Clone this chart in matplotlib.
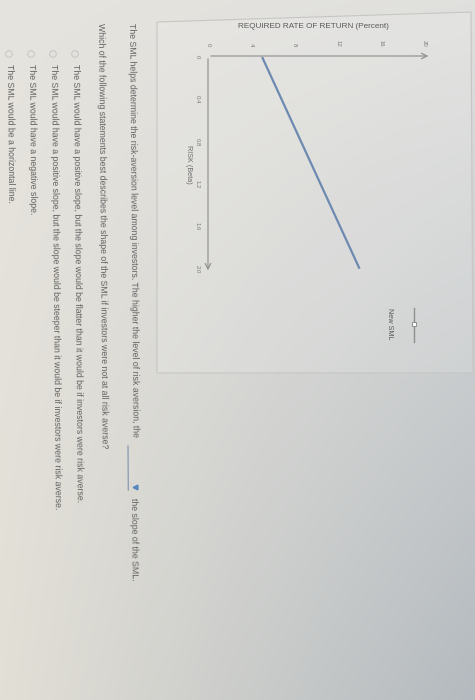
import matplotlib
matplotlib.use("Agg")
import matplotlib.pyplot as plt
import numpy as np
from matplotlib.patches import Polygon, Circle
from matplotlib.lines import Line2D

plt.rcParams["font.family"] = ["Liberation Sans", "DejaVu Sans"]

# chart data (the photo is turned 90 degrees clockwise)
beta_ticks = [0, 0.4, 0.8, 1.2, 1.6, 2.0]
beta_labels = ["0", "0.4", "0.8", "1.2", "1.6", "2.0"]
return_ticks = [0, 4, 8, 12, 16, 20]
return_labels = ["0", "4", "8", "12", "16", "20"]
sml_beta = [0.0, 2.0]
sml_return = [5.0, 14.0]

intro = ("The SML helps determine the risk-aversion level among investors. "
         "The higher the level of risk aversion, the")
intro_end = "the slope of the SML."
question = ("Which of the following statements best describes the shape of the SML "
            "if investors were not at all risk averse?")
options = [
    "The SML would have a positive slope, but the slope would be flatter than it would be if investors were risk averse.",
    "The SML would have a positive slope, but the slope would be steeper than it would be if investors were risk averse.",
    "The SML would have a negative slope.",
    "The SML would be a horizontal line.",
]

W, H = 475, 700
fig = plt.figure(figsize=(W / 100, H / 100), dpi=100)

# background: photographed screen, warm at left, cooler/darker at bottom right
bg = fig.add_axes([0, 0, 1, 1])
bg.set_xlim(0, W)
bg.set_ylim(H, 0)
bg.axis("off")
yy, xx = np.mgrid[0:1:140j, 0:1:95j]
tl = np.array([230, 228, 222]) / 255
tr = np.array([224, 224, 222]) / 255
bl = np.array([226, 223, 214]) / 255
br = np.array([180, 186, 191]) / 255
img = (tl * ((1 - xx) * (1 - yy))[..., None] + tr * (xx * (1 - yy))[..., None]
       + bl * ((1 - xx) * yy)[..., None] + br * (xx * yy)[..., None])
bg.imshow(img, extent=[0, W, H, 0], aspect="auto", interpolation="bilinear", zorder=0)

# chart panel frame
bg.add_patch(Polygon([(157, 22), (471, 12), (473, 373), (157, 373)], closed=True,
                     facecolor=(1, 1, 1, 0.12), edgecolor="#c6c6c3", lw=0.8, zorder=1))

# chart axes: return runs to the right, beta runs downward
ax = fig.add_axes([208 / W, 1 - 273 / H, (431 - 208) / W, (273 - 56) / H])
ax.patch.set_alpha(0)
ax.plot(sml_return, sml_beta, color="#6d8ab0", lw=1.6, solid_capstyle="butt")
ax.set_xlim(0, 20.6)
ax.set_ylim(2.04, -0.01)
for s in ax.spines.values():
    s.set_visible(False)
ax.annotate("", xy=(1, 1), xytext=(0, 1), xycoords="axes fraction",
            arrowprops=dict(arrowstyle="->", color="#8c8c8c", lw=0.8))
ax.annotate("", xy=(0, 0), xytext=(0, 1), xycoords="axes fraction",
            arrowprops=dict(arrowstyle="->", color="#8c8c8c", lw=0.8))

ax.xaxis.tick_top()
ax.set_xticks(return_ticks)
ax.set_xticklabels(return_labels, rotation=-90)
ax.set_yticks(beta_ticks)
ax.set_yticklabels(beta_labels, rotation=-90, va="center")
ax.tick_params(axis="both", length=0, labelsize=4.3, colors="#7a7a7a")
ax.tick_params(axis="x", pad=7)
ax.tick_params(axis="y", pad=6)
ax.set_ylabel("RISK (Beta)", rotation=-90, fontsize=5.2, color="#6a6a6a", labelpad=7,
              va="bottom")

bg.text(238, 26, "REQUIRED RATE OF RETURN (Percent)", fontsize=5.9, color="#5a5a5a",
        ha="left", va="center")

# legend key
bg.add_line(Line2D([414, 414], [308, 342], color="#8e8e8e", lw=1.0, zorder=3))
bg.plot([414], [324], marker="s", ms=3, mfc="white", mec="#8e8e8e", mew=0.7, zorder=4)
bg.text(390, 324, "New SML", rotation=-90, fontsize=5.2, color="#555555",
        ha="center", va="center")

# question text, running top to bottom
txt = dict(rotation=-89.5, rotation_mode="anchor", ha="left", va="center",
           fontsize=6.3, color="#636363")
bg.text(131, 23, intro, **txt)
bg.add_line(Line2D([128, 128.3], [446, 490], color="#8a9ab0", lw=0.9))
bg.plot([135], [487], marker="<", ms=3.4, color="#5585bd")
bg.text(133, 498, intro_end, **txt)
bg.text(100, 23, question, **txt)
for xpos, opt in zip([75, 53, 31, 9], options):
    bg.add_patch(Circle((xpos, 54), 3.3, facecolor="none", edgecolor="#c4c4c4", lw=0.7))
    bg.text(xpos, 64, opt, **txt)

fig.savefig("out.png", dpi=100)
